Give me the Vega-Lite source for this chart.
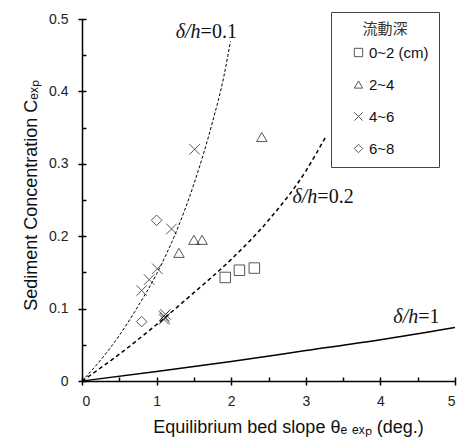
{
  "$schema": "https://vega.github.io/schema/vega-lite/v6.json",
  "width": 373,
  "height": 362,
  "autosize": "none",
  "padding": {"left": 82, "top": 19, "right": 8, "bottom": 56},
  "config": {
    "view": {"stroke": null},
    "font": "Liberation Sans",
    "axis": {
      "grid": false,
      "domainColor": "#000",
      "domainWidth": 1.5,
      "tickColor": "#000",
      "tickWidth": 1.5,
      "labelFont": "Liberation Sans",
      "labelFontSize": 14,
      "labelColor": "#222",
      "titleFont": "Liberation Sans",
      "titleFontSize": 18,
      "titleFontWeight": "normal",
      "titleColor": "#111"
    }
  },
  "datasets": {
    "points": [
      {"depth": "0~2 (cm)", "slope": 1.92, "conc": 0.143},
      {"depth": "0~2 (cm)", "slope": 2.11, "conc": 0.153},
      {"depth": "0~2 (cm)", "slope": 2.31, "conc": 0.156},
      {"depth": "2~4", "slope": 1.3, "conc": 0.177},
      {"depth": "2~4", "slope": 1.5, "conc": 0.195},
      {"depth": "2~4", "slope": 1.61, "conc": 0.195},
      {"depth": "2~4", "slope": 2.41, "conc": 0.337},
      {"depth": "4~6", "slope": 0.8, "conc": 0.125},
      {"depth": "4~6", "slope": 0.9, "conc": 0.14},
      {"depth": "4~6", "slope": 1.01, "conc": 0.155},
      {"depth": "4~6", "slope": 1.2, "conc": 0.21},
      {"depth": "4~6", "slope": 1.51, "conc": 0.32},
      {"depth": "4~6", "slope": 1.1, "conc": 0.085},
      {"depth": "4~6", "slope": 1.1, "conc": 0.09},
      {"depth": "4~6", "slope": 1.12, "conc": 0.092},
      {"depth": "4~6", "slope": 1.11, "conc": 0.087},
      {"depth": "6~8", "slope": 0.8, "conc": 0.082},
      {"depth": "6~8", "slope": 1.0, "conc": 0.222}
    ],
    "curves": [
      {"curve": "0.1", "slope": 0, "conc": 0},
      {"curve": "0.1", "slope": 0.25, "conc": 0.029},
      {"curve": "0.1", "slope": 0.5, "conc": 0.063},
      {"curve": "0.1", "slope": 0.75, "conc": 0.103},
      {"curve": "0.1", "slope": 1.0, "conc": 0.148},
      {"curve": "0.1", "slope": 1.25, "conc": 0.203},
      {"curve": "0.1", "slope": 1.5, "conc": 0.272},
      {"curve": "0.1", "slope": 1.75, "conc": 0.358},
      {"curve": "0.1", "slope": 1.9, "conc": 0.42},
      {"curve": "0.1", "slope": 1.99, "conc": 0.469},
      {"curve": "0.2", "slope": 0, "conc": 0},
      {"curve": "0.2", "slope": 0.5, "conc": 0.037},
      {"curve": "0.2", "slope": 1.0, "conc": 0.078},
      {"curve": "0.2", "slope": 1.5, "conc": 0.122},
      {"curve": "0.2", "slope": 2.0, "conc": 0.168},
      {"curve": "0.2", "slope": 2.5, "conc": 0.222},
      {"curve": "0.2", "slope": 3.0, "conc": 0.29},
      {"curve": "0.2", "slope": 3.27, "conc": 0.338},
      {"curve": "1", "slope": 0, "conc": 0},
      {"curve": "1", "slope": 1, "conc": 0.013},
      {"curve": "1", "slope": 2, "conc": 0.027},
      {"curve": "1", "slope": 3, "conc": 0.042},
      {"curve": "1", "slope": 4, "conc": 0.057},
      {"curve": "1", "slope": 5, "conc": 0.074}
    ],
    "labels": [
      {"slope": 1.59, "conc": 0.482, "left": "δ/h", "right": "=0.1"},
      {"slope": 3.155, "conc": 0.254, "left": "δ/h", "right": "=0.2"},
      {"slope": 4.507, "conc": 0.088, "left": "δ/h", "right": "=1"}
    ]
  },
  "layer": [
    {
      "data": {"name": "curves"},
      "transform": [{"filter": "datum.curve === '0.1'"}],
      "mark": {"type": "line", "color": "#000", "strokeWidth": 1, "strokeDash": [3, 2], "interpolate": "monotone"},
      "encoding": {
        "x": {"field": "slope", "type": "quantitative", "scale": {"domain": [0, 5]},
          "axis": {"orient": "bottom", "values": [0, 0.5, 1, 1.5, 2, 2.5, 3, 3.5, 4, 4.5, 5], "tickSize": -4, "labels": false, "domain": false, "title": null}},
        "y": {"field": "conc", "type": "quantitative", "scale": {"domain": [0, 0.5]},
          "axis": {"orient": "left", "values": [0, 0.05, 0.1, 0.15, 0.2, 0.25, 0.3, 0.35, 0.4, 0.45, 0.5], "tickSize": -4, "labels": false, "domain": false, "title": null}}
      }
    },
    {
      "data": {"name": "curves"},
      "transform": [{"filter": "datum.curve === '0.2'"}],
      "mark": {"type": "line", "color": "#000", "strokeWidth": 1.5, "strokeDash": [4, 3], "interpolate": "monotone"},
      "encoding": {
        "x": {"field": "slope", "type": "quantitative", "scale": {"domain": [0, 5]}, "axis": null},
        "y": {"field": "conc", "type": "quantitative", "scale": {"domain": [0, 0.5]}, "axis": null}
      }
    },
    {
      "data": {"name": "curves"},
      "transform": [{"filter": "datum.curve === '1'"}],
      "mark": {"type": "line", "color": "#000", "strokeWidth": 1.5, "interpolate": "monotone"},
      "encoding": {
        "x": {"field": "slope", "type": "quantitative", "scale": {"domain": [0, 5]}, "axis": null},
        "y": {"field": "conc", "type": "quantitative", "scale": {"domain": [0, 0.5]}, "axis": null}
      }
    },
    {
      "data": {"name": "points"},
      "mark": {"type": "point", "filled": false, "stroke": "#111", "strokeWidth": 1, "size": 110},
      "encoding": {
        "x": {"field": "slope", "type": "quantitative", "scale": {"domain": [0, 5]},
          "axis": {"orient": "bottom", "values": [0, 1, 2, 3, 4, 5], "tickSize": 4, "labelPadding": 9,
            "title": "Equilibrium bed slope  θₑ ₑₓₚ (deg.)", "titleX": 206, "titleY": 46, "titleAlign": "center", "titleBaseline": "middle"}},
        "y": {"field": "conc", "type": "quantitative", "scale": {"domain": [0, 0.5]},
          "axis": {"orient": "left", "values": [0, 0.1, 0.2, 0.3, 0.4, 0.5], "format": "~g", "tickSize": 4, "labelPadding": 10,
            "title": "Sediment Concentration  Cₑₓₚ", "titleX": -51, "titleY": 176, "titleAngle": -90, "titleAlign": "center", "titleBaseline": "middle"}},
        "shape": {
          "field": "depth", "type": "nominal",
          "scale": {
            "domain": ["0~2 (cm)", "2~4", "4~6", "6~8"],
            "range": ["square", "triangle-up", "M-1,-1L1,1M-1,1L1,-1", "diamond"]
          },
          "legend": {
            "orient": "none", "legendX": 249, "legendY": -7,
            "title": "流動深", "titleFont": "Noto Sans CJK JP", "titleFontSize": 15, "titleFontWeight": "normal", "titleColor": "#333",
            "titleAnchor": "middle", "titlePadding": 8,
            "labelFont": "Liberation Sans", "labelFontSize": 15, "labelColor": "#111", "labelOffset": 3,
            "symbolSize": 70, "symbolStrokeColor": "#111", "symbolStrokeWidth": 1, "symbolFillColor": "transparent",
            "symbolOffset": 10, "rowPadding": 16,
            "padding": 10, "strokeColor": "#444", "fillColor": "#fff"
          }
        }
      }
    },
    {
      "data": {"name": "labels"},
      "mark": {"type": "text", "align": "right", "baseline": "middle", "font": "Liberation Serif", "fontStyle": "italic", "fontSize": 20, "color": "#111"},
      "encoding": {
        "x": {"field": "slope", "type": "quantitative", "scale": {"domain": [0, 5]}, "axis": null},
        "y": {"field": "conc", "type": "quantitative", "scale": {"domain": [0, 0.5]}, "axis": null},
        "text": {"field": "left"}
      }
    },
    {
      "data": {"name": "labels"},
      "mark": {"type": "text", "align": "left", "baseline": "middle", "font": "Liberation Serif", "fontSize": 20, "color": "#111"},
      "encoding": {
        "x": {"field": "slope", "type": "quantitative", "scale": {"domain": [0, 5]}, "axis": null},
        "y": {"field": "conc", "type": "quantitative", "scale": {"domain": [0, 0.5]}, "axis": null},
        "text": {"field": "right"}
      }
    }
  ],
  "resolve": {"axis": {"x": "independent", "y": "independent"}}
}
